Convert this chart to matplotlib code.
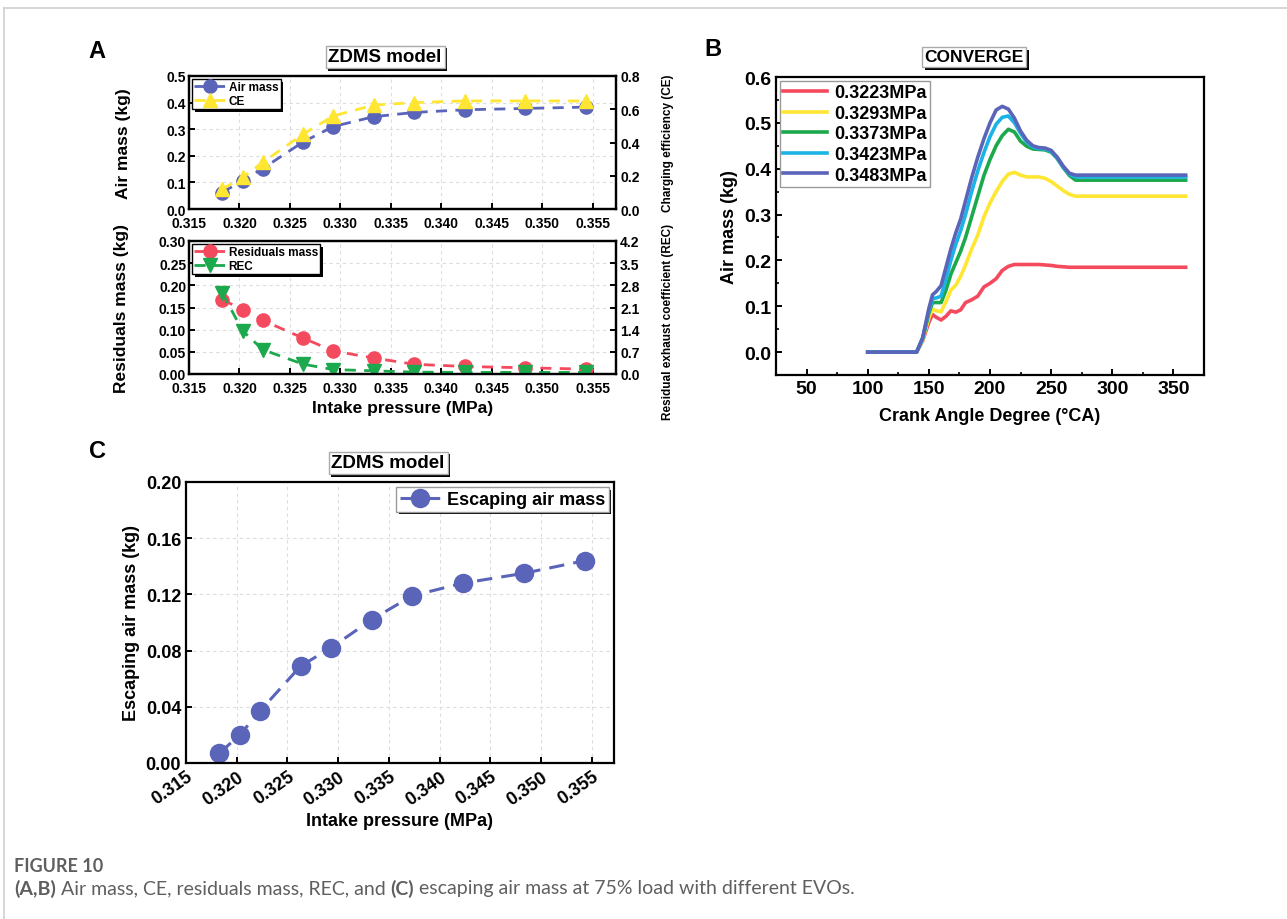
import matplotlib
matplotlib.use('Agg')
import matplotlib.pyplot as plt
import matplotlib.patheffects as pe
from matplotlib.lines import Line2D
from matplotlib.text import Annotation
from matplotlib.ticker import MultipleLocator

plt.rcParams['font.family'] = ['Liberation Sans', 'DejaVu Sans']
plt.rcParams['font.weight'] = 'bold'
plt.rcParams['axes.labelweight'] = 'bold'

# intake pressure (MPa), shared by panels A and C
pressure = [0.3183, 0.3203, 0.3223, 0.3263, 0.3293, 0.3333, 0.3373, 0.3423, 0.3483, 0.3543]
air_mass = [0.062, 0.107, 0.152, 0.252, 0.310, 0.347, 0.363, 0.373, 0.378, 0.383]
ce = [0.12, 0.19, 0.28, 0.45, 0.56, 0.625, 0.64, 0.65, 0.65, 0.65]
residuals_mass = [0.168, 0.145, 0.121, 0.081, 0.052, 0.036, 0.022, 0.017, 0.014, 0.011]
rec = [2.56, 1.37, 0.77, 0.31, 0.14, 0.10, 0.06, 0.05, 0.05, 0.05]
escaping_mass = [0.007, 0.020, 0.037, 0.069, 0.082, 0.102, 0.119, 0.128, 0.135, 0.144]

# panel B: air mass vs crank angle for several intake pressures
crank_angle = [100, 140, 145, 150, 153, 156, 160, 164, 168, 172, 176, 180, 185, 190, 195, 200,
               205, 210, 215, 220, 225, 230, 235, 240, 245, 250, 255, 260, 265, 270, 300, 360]
b_labels = ['0.3223MPa', '0.3293MPa', '0.3373MPa', '0.3423MPa', '0.3483MPa']
am_3223 = [0, 0, 0.025, 0.065, 0.082, 0.076, 0.070, 0.078, 0.090, 0.087, 0.092, 0.108, 0.114, 0.122,
           0.142, 0.150, 0.160, 0.178, 0.187, 0.191, 0.191, 0.191, 0.191, 0.191, 0.190, 0.189, 0.187,
           0.186, 0.185, 0.185, 0.185, 0.185]
am_3293 = [0, 0, 0.027, 0.075, 0.094, 0.090, 0.088, 0.110, 0.135, 0.146, 0.165, 0.190, 0.225, 0.255,
           0.295, 0.325, 0.350, 0.372, 0.388, 0.392, 0.386, 0.382, 0.382, 0.382, 0.379, 0.372, 0.362,
           0.352, 0.344, 0.340, 0.340, 0.340]
am_3373 = [0, 0, 0.030, 0.085, 0.108, 0.108, 0.108, 0.135, 0.170, 0.195, 0.220, 0.250, 0.295, 0.340,
           0.385, 0.420, 0.450, 0.472, 0.486, 0.480, 0.460, 0.449, 0.443, 0.442, 0.441, 0.436, 0.422,
           0.402, 0.385, 0.375, 0.375, 0.375]
am_3423 = [0, 0, 0.030, 0.090, 0.117, 0.118, 0.122, 0.160, 0.200, 0.235, 0.265, 0.300, 0.350, 0.395,
           0.435, 0.470, 0.497, 0.512, 0.515, 0.500, 0.477, 0.458, 0.447, 0.444, 0.443, 0.438, 0.423,
           0.403, 0.388, 0.382, 0.382, 0.382]
am_3483 = [0, 0, 0.032, 0.095, 0.125, 0.132, 0.145, 0.185, 0.225, 0.260, 0.290, 0.330, 0.380, 0.425,
           0.465, 0.500, 0.528, 0.536, 0.530, 0.510, 0.482, 0.462, 0.450, 0.446, 0.445, 0.440, 0.425,
           0.405, 0.390, 0.386, 0.386, 0.386]

blue = '#5A64B8'
yellow = '#FFE633'
red = '#F44A5E'
green = '#1CA84C'
cyan = '#1AB3E6'
b_colors = [red, yellow, green, cyan, blue]

W, H = 1287, 920
fig = plt.figure(figsize=(W / 100, H / 100), dpi=100)


def px_axes(x0, y0, x1, y1):
    return fig.add_axes([x0 / W, 1 - y1 / H, (x1 - x0) / W, (y1 - y0) / H])


def title_box(x, y, text, size):
    t = fig.text(x / W, 1 - y / H, text, ha='center', va='center', fontsize=size,
                 bbox=dict(boxstyle='square,pad=0.15', fc='white', ec='#aaaaaa', lw=1))
    t.get_bbox_patch().set_path_effects([
        pe.SimplePatchShadow(offset=(2, -2), shadow_rgbFace='black', alpha=1), pe.Normal()])


def style(ax, size, grid=True):
    for s in ax.spines.values():
        s.set_linewidth(1.6)
    ax.tick_params(direction='in', width=1.4, length=4, labelsize=size)
    ax.tick_params(which='minor', direction='in', width=1.2, length=2.5)
    if grid:
        ax.grid(True, color='#dddddd', linestyle=(0, (3, 3)), linewidth=0.8)
        ax.set_axisbelow(True)


def legend_shadow(leg):
    leg.get_frame().set_path_effects([
        pe.SimplePatchShadow(offset=(2, -2), shadow_rgbFace='black', alpha=1), pe.Normal()])


# page frame lines
fig.add_artist(Line2D([4 / W, 4 / W], [0, 1 - 9 / H], color='#cfcfcf', lw=1.2))
fig.add_artist(Line2D([4 / W, 1], [1 - 9 / H, 1 - 9 / H], color='#cfcfcf', lw=1.2))

dash = (0, (4, 3))
xticks_p = [0.315, 0.320, 0.325, 0.330, 0.335, 0.340, 0.345, 0.350, 0.355]

# ---- panel A top
ax1 = px_axes(189, 77, 616, 210)
ax1r = ax1.twinx()
style(ax1, 10)
style(ax1r, 10, grid=False)
ax1.plot(pressure, air_mass, ls=dash, lw=2, color=blue, marker='o', ms=9.5, label='Air mass')
ax1r.plot(pressure, ce, ls=dash, lw=2, color=yellow, marker='^', ms=10.5, label='CE')
ax1.set_xlim(0.315, 0.3573)
ax1.set_ylim(0, 0.5)
ax1r.set_ylim(0, 0.8)
ax1.set_xticks(xticks_p)
ax1.set_xticklabels([f'{v:.3f}' for v in xticks_p])
ax1.set_yticks([0, 0.1, 0.2, 0.3, 0.4, 0.5])
ax1r.set_yticks([0, 0.2, 0.4, 0.6, 0.8])
ax1.tick_params(axis='y', pad=2)
ax1.tick_params(axis='x', pad=5)
ax1r.tick_params(pad=3)
ax1.set_ylabel('Air mass (kg)', fontsize=12.5)
ax1.yaxis.set_label_coords(-0.135, 0.5)
ax1r.set_ylabel('Charging efficiency (CE)', fontsize=8.5)
ax1r.yaxis.set_label_coords(1.108, 0.5)
h1, l1 = ax1.get_legend_handles_labels()
h2, l2 = ax1r.get_legend_handles_labels()
leg = ax1r.legend(h1 + h2, l1 + l2, loc='upper left', fontsize=8.5, frameon=True, fancybox=False,
                  edgecolor='black', framealpha=1, borderpad=0.2, labelspacing=0.15,
                  handlelength=2.6, handletextpad=0.3, borderaxespad=0.25)
leg.get_frame().set_linewidth(1)
legend_shadow(leg)

# ---- panel A bottom
ax2 = px_axes(189, 242, 616, 375)
ax2r = ax2.twinx()
style(ax2, 10)
style(ax2r, 10, grid=False)
ax2.plot(pressure, residuals_mass, ls=dash, lw=2, color=red, marker='o', ms=9.5, label='Residuals mass')
ax2r.plot(pressure, rec, ls=dash, lw=2, color=green, marker='v', ms=10.5, label='REC')
ax2.set_xlim(0.315, 0.3573)
ax2.set_ylim(0, 0.30)
ax2r.set_ylim(0, 4.2)
ax2.set_xticks(xticks_p)
ax2.set_xticklabels([f'{v:.3f}' for v in xticks_p])
ax2.set_yticks([0, 0.05, 0.10, 0.15, 0.20, 0.25, 0.30])
ax2.set_yticklabels([f'{v:.2f}' for v in [0, 0.05, 0.10, 0.15, 0.20, 0.25, 0.30]])
ax2r.set_yticks([0, 0.7, 1.4, 2.1, 2.8, 3.5, 4.2])
ax2.tick_params(axis='y', pad=2)
ax2.tick_params(axis='x', pad=5)
ax2r.tick_params(pad=3)
ax2.set_ylabel('Residuals mass (kg)', fontsize=12.5)
ax2.yaxis.set_label_coords(-0.14, 0.5)
ax2r.set_ylabel('Residual exhaust coefficient (REC)', fontsize=8.5)
ax2r.yaxis.set_label_coords(1.108, 0.4)
ax2.set_xlabel('Intake pressure (MPa)', fontsize=12.5, labelpad=4)
h1, l1 = ax2.get_legend_handles_labels()
h2, l2 = ax2r.get_legend_handles_labels()
leg = ax2r.legend(h1 + h2, l1 + l2, loc='upper left', fontsize=8.5, frameon=True, fancybox=False,
                  edgecolor='black', framealpha=1, borderpad=0.2, labelspacing=0.15,
                  handlelength=2.6, handletextpad=0.3, borderaxespad=0.25)
leg.get_frame().set_linewidth(1)
legend_shadow(leg)

# ---- panel B
axb = px_axes(776, 78, 1204, 376)
style(axb, 14, grid=False)
for vals, lab, col in zip([am_3223, am_3293, am_3373, am_3423, am_3483], b_labels, b_colors):
    axb.plot(crank_angle, vals, color=col, lw=2.6, label=lab)
axb.set_xlim(25, 375)
axb.set_ylim(-0.05, 0.6)
axb.set_xticks([50, 100, 150, 200, 250, 300, 350])
axb.xaxis.set_minor_locator(MultipleLocator(25))
axb.set_yticks([0, 0.1, 0.2, 0.3, 0.4, 0.5, 0.6])
axb.yaxis.set_minor_locator(MultipleLocator(0.05))
axb.set_ylabel('Air mass (kg)', fontsize=13)
axb.set_xlabel('Crank Angle Degree (°CA)', fontsize=13, labelpad=7)
leg = axb.legend(loc='upper left', fontsize=13, frameon=True, fancybox=False, edgecolor='#999999',
                 framealpha=1, borderpad=0.2, labelspacing=0.2, handlelength=2.4,
                 handletextpad=0.4, borderaxespad=0.2)
leg.get_frame().set_linewidth(1)

# ---- panel C
axc = px_axes(186, 483, 614, 764)
style(axc, 13)
axc.plot(pressure, escaping_mass, ls=(0, (5, 3)), lw=2.2, color=blue, marker='o', ms=13,
         label='Escaping air mass')
axc.set_xlim(0.315, 0.3572)
axc.set_ylim(0, 0.20)
axc.set_xticks(xticks_p)
axc.set_xticklabels([f'{v:.3f}' for v in xticks_p], rotation=35, ha='right', rotation_mode='anchor')
axc.set_yticks([0, 0.04, 0.08, 0.12, 0.16, 0.20])
axc.set_yticklabels([f'{v:.2f}' for v in [0, 0.04, 0.08, 0.12, 0.16, 0.20]])
axc.set_ylabel('Escaping air mass (kg)', fontsize=13)
axc.set_xlabel('Intake pressure (MPa)', fontsize=13, labelpad=3)
leg = axc.legend(loc='upper right', fontsize=13, frameon=True, fancybox=False, edgecolor='#999999',
                 framealpha=1, borderpad=0.2, handlelength=2.2, handletextpad=0.4, borderaxespad=0.3)
leg.get_frame().set_linewidth(1)
legend_shadow(leg)

# titles and panel letters
title_box(385, 58, 'ZDMS model', 13.5)
title_box(974, 58, 'CONVERGE', 12.5)
title_box(388, 464, 'ZDMS model', 13.5)
fig.text(97 / W, 1 - 52 / H, 'A', fontsize=17, ha='center', va='center')
fig.text(713 / W, 1 - 50 / H, 'B', fontsize=17, ha='center', va='center')
fig.text(97 / W, 1 - 452 / H, 'C', fontsize=17, ha='center', va='center')

# caption: pieces chained left to right so the bold parts sit inline
cap_color = '#5f5f5f'
cap_font = 'Lato'
fig.text(14 / W, 1 - 867 / H, 'FIGURE 10', fontsize=13, color=cap_color, fontweight='bold',
         family=cap_font, va='center')
pieces = [('(A,B)', 'bold'),
          (' Air mass, CE, residuals mass, REC, and ', 'normal'),
          ('(C)', 'bold'),
          (' escaping air mass at 75% load with different EVOs.', 'normal')]
prev = fig.text(14 / W, 1 - 889 / H, pieces[0][0], fontsize=14, color=cap_color,
                fontweight=pieces[0][1], family=cap_font, va='center')
for txt, wt in pieces[1:]:
    prev = fig.add_artist(Annotation(txt, xy=(1, 0.5), xycoords=prev, va='center', ha='left',
                                     fontsize=14, color=cap_color, fontweight=wt, family=cap_font))

fig.savefig('out.png', dpi=100)
